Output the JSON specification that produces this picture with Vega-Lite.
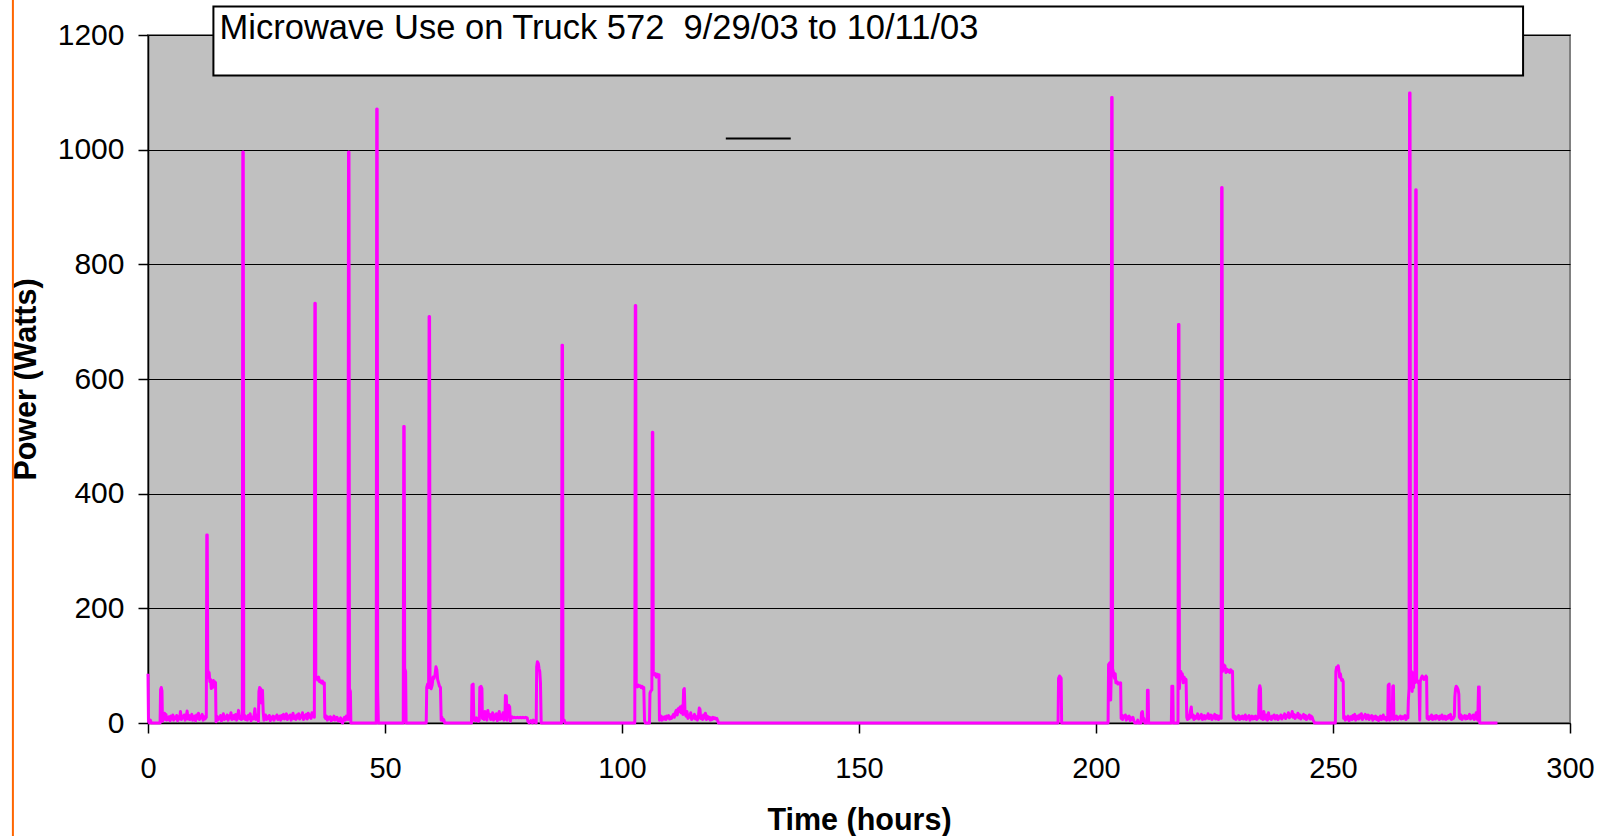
{
  "$schema": "https://vega.github.io/schema/vega-lite/v6.json",
  "width": 1422,
  "height": 688,
  "autosize": {"type": "none"},
  "padding": {"left": 148, "top": 35, "right": 35, "bottom": 113},
  "background": "#ffffff",
  "config": {
    "font": "Liberation Sans",
    "view": {"fill": "#C0C0C0", "stroke": "#808080", "strokeWidth": 2},
    "axis": {"domainColor": "#000000", "tickColor": "#000000", "labelColor": "#000000", "titleColor": "#000000", "labelFont": "Liberation Sans", "titleFont": "Liberation Sans"}
  },
  "datasets": {
    "power": [
      {"t":0,"w":86},{"t":0.1,"w":3},{"t":0.3,"w":0},{"t":0.5,"w":5},{"t":0.7,"w":0},{"t":2.55,"w":0},{"t":2.65,"w":58},{"t":2.8,"w":62},{"t":2.95,"w":56},{"t":3.05,"w":3},{"t":3.2,"w":16},{"t":3.35,"w":12},{"t":3.5,"w":17},{"t":3.65,"w":6},{"t":3.8,"w":15},{"t":3.95,"w":5},{"t":4.1,"w":9},{"t":4.25,"w":6},{"t":4.45,"w":11},{"t":4.65,"w":4},{"t":4.85,"w":12},{"t":5.05,"w":7},{"t":5.25,"w":14},{"t":5.45,"w":5},{"t":5.65,"w":10},{"t":5.85,"w":8},{"t":6.05,"w":13},{"t":6.25,"w":4},{"t":6.45,"w":11},{"t":6.65,"w":7},{"t":6.85,"w":20},{"t":7.05,"w":6},{"t":7.25,"w":12},{"t":7.45,"w":9},{"t":7.65,"w":14},{"t":7.85,"w":5},{"t":8.05,"w":10},{"t":8.25,"w":21},{"t":8.45,"w":7},{"t":8.65,"w":13},{"t":8.85,"w":6},{"t":9.05,"w":11},{"t":9.25,"w":15},{"t":9.45,"w":5},{"t":9.65,"w":9},{"t":9.85,"w":12},{"t":10.05,"w":4},{"t":10.25,"w":14},{"t":10.45,"w":8},{"t":10.65,"w":17},{"t":10.85,"w":6},{"t":11.05,"w":12},{"t":11.25,"w":9},{"t":11.45,"w":15},{"t":11.65,"w":5},{"t":11.85,"w":11},{"t":12.05,"w":7},
      {"t":12.3,"w":10},{"t":12.4,"w":328},{"t":12.5,"w":328},{"t":12.6,"w":95},{"t":12.75,"w":80},{"t":12.9,"w":88},{"t":13.05,"w":72},{"t":13.2,"w":76},{"t":13.35,"w":60},{"t":13.5,"w":70},{"t":13.65,"w":62},{"t":13.8,"w":74},{"t":13.95,"w":70},{"t":14.1,"w":72},{"t":14.25,"w":70},{"t":14.35,"w":2},
      {"t":14.5,"w":12},{"t":14.7,"w":5},{"t":14.9,"w":10},{"t":15.1,"w":7},{"t":15.3,"w":13},{"t":15.5,"w":4},{"t":15.7,"w":9},{"t":15.9,"w":16},{"t":16.1,"w":6},{"t":16.3,"w":11},{"t":16.5,"w":8},{"t":16.7,"w":14},{"t":16.9,"w":5},{"t":17.1,"w":12},{"t":17.3,"w":9},{"t":17.5,"w":18},{"t":17.7,"w":6},{"t":17.9,"w":10},{"t":18.1,"w":13},{"t":18.3,"w":7},{"t":18.5,"w":15},{"t":18.7,"w":5},{"t":18.9,"w":11},{"t":19.1,"w":22},{"t":19.3,"w":8},{"t":19.5,"w":12},{"t":19.7,"w":6},
      {"t":19.9,"w":10},{"t":20.0,"w":996},{"t":20.1,"w":996},{"t":20.2,"w":8},
      {"t":20.35,"w":14},{"t":20.55,"w":6},{"t":20.75,"w":11},{"t":20.95,"w":5},{"t":21.15,"w":13},{"t":21.35,"w":8},{"t":21.55,"w":16},{"t":21.75,"w":4},{"t":21.95,"w":10},{"t":22.15,"w":7},{"t":22.35,"w":12},{"t":22.55,"w":25},{"t":22.75,"w":6},{"t":22.95,"w":9},{"t":23.15,"w":14},{"t":23.3,"w":3},
      {"t":23.4,"w":55},{"t":23.55,"w":62},{"t":23.75,"w":60},{"t":23.9,"w":35},{"t":24.0,"w":55},{"t":24.15,"w":57},{"t":24.3,"w":20},{"t":24.45,"w":5},
      {"t":24.6,"w":10},{"t":24.8,"w":14},{"t":25.0,"w":6},{"t":25.2,"w":11},{"t":25.4,"w":8},{"t":25.6,"w":13},{"t":25.8,"w":4},{"t":26.0,"w":10},{"t":26.2,"w":7},{"t":26.4,"w":12},{"t":26.6,"w":5},{"t":26.8,"w":11},{"t":27.0,"w":9},{"t":27.2,"w":14},{"t":27.4,"w":6},{"t":27.6,"w":10},{"t":27.8,"w":12},{"t":28.0,"w":5},{"t":28.2,"w":13},{"t":28.4,"w":8},{"t":28.6,"w":15},{"t":28.8,"w":7},{"t":29.0,"w":11},{"t":29.2,"w":16},{"t":29.4,"w":6},{"t":29.6,"w":12},{"t":29.8,"w":9},{"t":30.0,"w":14},{"t":30.2,"w":5},{"t":30.4,"w":11},{"t":30.6,"w":17},{"t":30.8,"w":8},{"t":31.0,"w":12},{"t":31.2,"w":6},{"t":31.4,"w":14},{"t":31.6,"w":9},{"t":31.8,"w":16},{"t":32.0,"w":7},{"t":32.2,"w":12},{"t":32.4,"w":10},{"t":32.6,"w":18},{"t":32.8,"w":6},{"t":33.0,"w":13},{"t":33.2,"w":9},{"t":33.4,"w":15},{"t":33.6,"w":7},{"t":33.8,"w":17},{"t":34.0,"w":10},{"t":34.2,"w":14},{"t":34.4,"w":8},{"t":34.6,"w":18},{"t":34.8,"w":12},{"t":35.0,"w":16},
      {"t":35.1,"w":10},{"t":35.2,"w":732},{"t":35.3,"w":732},{"t":35.4,"w":82},{"t":35.6,"w":78},{"t":35.8,"w":75},{"t":36.0,"w":80},{"t":36.2,"w":72},{"t":36.4,"w":74},{"t":36.6,"w":70},{"t":36.8,"w":73},{"t":37.0,"w":68},{"t":37.2,"w":70},{"t":37.3,"w":10},
      {"t":37.45,"w":8},{"t":37.65,"w":12},{"t":37.85,"w":5},{"t":38.05,"w":10},{"t":38.25,"w":7},{"t":38.45,"w":11},{"t":38.65,"w":4},{"t":38.85,"w":9},{"t":39.05,"w":6},{"t":39.25,"w":12},{"t":39.45,"w":5},{"t":39.65,"w":8},{"t":39.85,"w":10},{"t":40.05,"w":4},{"t":40.25,"w":7},{"t":40.45,"w":3},{"t":40.65,"w":9},{"t":40.85,"w":2},{"t":41.05,"w":0},{"t":41.25,"w":6},{"t":41.45,"w":10},{"t":41.65,"w":5},{"t":41.85,"w":12},{"t":42.05,"w":8},
      {"t":42.2,"w":6},{"t":42.3,"w":996},{"t":42.4,"w":996},{"t":42.5,"w":60},{"t":42.7,"w":55},{"t":42.8,"w":0},
      {"t":48.15,"w":0},{"t":48.25,"w":1071},{"t":48.35,"w":1071},{"t":48.45,"w":55},{"t":48.6,"w":0},
      {"t":53.85,"w":0},{"t":53.95,"w":517},{"t":54.05,"w":517},{"t":54.15,"w":95},{"t":54.35,"w":90},{"t":54.45,"w":0},
      {"t":58.7,"w":0},{"t":58.8,"w":62},{"t":59.0,"w":68},{"t":59.2,"w":62},{"t":59.3,"w":709},{"t":59.4,"w":709},{"t":59.5,"w":62},{"t":59.75,"w":60},{"t":59.95,"w":66},{"t":60.15,"w":80},{"t":60.35,"w":78},{"t":60.55,"w":84},{"t":60.75,"w":98},{"t":60.95,"w":92},{"t":61.1,"w":76},{"t":61.3,"w":70},{"t":61.5,"w":64},{"t":61.7,"w":62},{"t":61.85,"w":5},{"t":62.0,"w":10},{"t":62.2,"w":4},{"t":62.4,"w":6},{"t":62.6,"w":0},
      {"t":68.25,"w":0},{"t":68.35,"w":66},{"t":68.6,"w":68},{"t":68.75,"w":5},{"t":68.9,"w":8},{"t":69.1,"w":4},{"t":69.3,"w":9},{"t":69.5,"w":6},{"t":69.7,"w":3},{"t":69.9,"w":5},{"t":70.0,"w":62},{"t":70.25,"w":64},{"t":70.45,"w":60},{"t":70.55,"w":8},{"t":70.7,"w":14},{"t":70.9,"w":6},{"t":71.1,"w":20},{"t":71.3,"w":10},{"t":71.5,"w":5},{"t":71.7,"w":22},{"t":71.9,"w":12},{"t":72.1,"w":15},{"t":72.3,"w":6},{"t":72.5,"w":10},{"t":72.7,"w":18},{"t":72.9,"w":5},{"t":73.1,"w":14},{"t":73.3,"w":8},{"t":73.5,"w":16},{"t":73.7,"w":4},{"t":73.9,"w":12},{"t":74.1,"w":20},{"t":74.3,"w":6},{"t":74.5,"w":14},{"t":74.7,"w":8},{"t":74.9,"w":18},{"t":75.1,"w":5},{"t":75.3,"w":10},{"t":75.4,"w":48},{"t":75.6,"w":47},{"t":75.75,"w":5},{"t":75.9,"w":30},{"t":76.1,"w":31},{"t":76.3,"w":28},{"t":76.45,"w":3},{"t":76.6,"w":10},{"t":76.8,"w":11},{"t":77.0,"w":9},{"t":77.3,"w":10},{"t":77.6,"w":9},{"t":77.9,"w":10},{"t":78.2,"w":9},{"t":78.5,"w":10},{"t":78.8,"w":9},{"t":79.1,"w":10},{"t":79.4,"w":9},{"t":79.7,"w":10},{"t":80.0,"w":9},{"t":80.15,"w":3},{"t":80.4,"w":0},{"t":80.8,"w":4},{"t":81.1,"w":0},{"t":81.3,"w":5},{"t":81.5,"w":2},
      {"t":81.9,"w":0},{"t":82.0,"w":98},{"t":82.15,"w":107},{"t":82.35,"w":104},{"t":82.5,"w":95},{"t":82.65,"w":90},{"t":82.8,"w":70},{"t":82.95,"w":0},
      {"t":87.25,"w":0},{"t":87.35,"w":659},{"t":87.45,"w":659},{"t":87.55,"w":6},{"t":87.8,"w":5},{"t":88.0,"w":0},
      {"t":102.7,"w":0},{"t":102.8,"w":728},{"t":102.9,"w":728},{"t":103.0,"w":68},{"t":103.25,"w":63},{"t":103.45,"w":66},{"t":103.65,"w":64},{"t":103.85,"w":65},{"t":104.05,"w":62},{"t":104.25,"w":64},{"t":104.45,"w":60},{"t":104.6,"w":62},{"t":104.75,"w":5},{"t":104.9,"w":0},
      {"t":105.8,"w":0},{"t":105.9,"w":52},{"t":106.1,"w":56},{"t":106.3,"w":58},{"t":106.4,"w":507},{"t":106.5,"w":507},{"t":106.6,"w":88},{"t":106.85,"w":84},{"t":107.05,"w":86},{"t":107.25,"w":80},{"t":107.45,"w":85},{"t":107.65,"w":82},{"t":107.8,"w":84},{"t":107.9,"w":5},
      {"t":108.05,"w":8},{"t":108.25,"w":12},{"t":108.45,"w":5},{"t":108.65,"w":10},{"t":108.85,"w":7},{"t":109.05,"w":11},{"t":109.25,"w":6},{"t":109.45,"w":12},{"t":109.65,"w":9},{"t":109.85,"w":13},{"t":110.05,"w":7},{"t":110.25,"w":10},{"t":110.45,"w":8},{"t":110.65,"w":12},{"t":110.85,"w":15},{"t":111.05,"w":10},{"t":111.25,"w":18},{"t":111.45,"w":22},{"t":111.65,"w":14},{"t":111.85,"w":25},{"t":112.05,"w":20},{"t":112.25,"w":28},{"t":112.45,"w":18},{"t":112.65,"w":30},{"t":112.85,"w":15},{"t":113.0,"w":58},{"t":113.15,"w":60},{"t":113.3,"w":18},{"t":113.5,"w":12},{"t":113.7,"w":20},{"t":113.9,"w":8},{"t":114.1,"w":14},{"t":114.3,"w":10},{"t":114.5,"w":18},{"t":114.7,"w":6},{"t":114.9,"w":12},{"t":115.1,"w":9},{"t":115.3,"w":15},{"t":115.5,"w":7},{"t":115.7,"w":11},{"t":115.9,"w":5},{"t":116.1,"w":10},{"t":116.3,"w":26},{"t":116.45,"w":24},{"t":116.6,"w":8},{"t":116.8,"w":12},{"t":117.0,"w":6},{"t":117.2,"w":14},{"t":117.4,"w":9},{"t":117.6,"w":17},{"t":117.8,"w":6},{"t":118.0,"w":12},{"t":118.2,"w":8},{"t":118.4,"w":10},{"t":118.6,"w":5},{"t":118.8,"w":9},{"t":119.0,"w":6},{"t":119.2,"w":10},{"t":119.4,"w":8},{"t":119.6,"w":9},{"t":119.8,"w":7},{"t":120.0,"w":8},{"t":120.2,"w":4},{"t":120.35,"w":0},
      {"t":192.0,"w":0},{"t":192.1,"w":78},{"t":192.3,"w":82},{"t":192.5,"w":80},{"t":192.65,"w":78},{"t":192.75,"w":0},
      {"t":202.55,"w":0},{"t":202.65,"w":102},{"t":202.9,"w":105},{"t":203.0,"w":60},{"t":203.1,"w":40},{"t":203.2,"w":80},{"t":203.3,"w":1091},{"t":203.4,"w":1091},{"t":203.5,"w":95},{"t":203.7,"w":88},{"t":203.9,"w":78},{"t":204.05,"w":86},{"t":204.2,"w":70},{"t":204.4,"w":72},{"t":204.6,"w":68},{"t":204.8,"w":70},{"t":205.0,"w":68},{"t":205.2,"w":70},{"t":205.3,"w":8},{"t":205.45,"w":14},{"t":205.6,"w":6},{"t":205.8,"w":12},{"t":206.0,"w":10},{"t":206.2,"w":14},{"t":206.4,"w":5},{"t":206.6,"w":11},{"t":206.8,"w":8},{"t":207.0,"w":12},{"t":207.2,"w":4},{"t":207.4,"w":9},{"t":207.6,"w":6},{"t":207.8,"w":10},{"t":208.0,"w":3},{"t":208.2,"w":0},{"t":208.6,"w":0},{"t":208.8,"w":5},{"t":209.0,"w":0},{"t":209.5,"w":0},{"t":209.6,"w":18},{"t":209.8,"w":20},{"t":209.95,"w":5},{"t":210.1,"w":8},{"t":210.3,"w":0},{"t":210.8,"w":0},{"t":210.85,"w":57},{"t":211.0,"w":57},{"t":211.1,"w":0},
      {"t":215.9,"w":0},{"t":216.0,"w":64},{"t":216.2,"w":64},{"t":216.3,"w":0},{"t":217.3,"w":0},{"t":217.4,"w":695},{"t":217.5,"w":695},{"t":217.6,"w":60},{"t":217.75,"w":88},{"t":217.9,"w":90},{"t":218.05,"w":78},{"t":218.2,"w":86},{"t":218.4,"w":70},{"t":218.6,"w":80},{"t":218.8,"w":75},{"t":219.0,"w":76},{"t":219.15,"w":10},{"t":219.3,"w":6},{"t":219.5,"w":12},{"t":219.7,"w":8},{"t":219.9,"w":20},{"t":220.1,"w":28},{"t":220.25,"w":10},{"t":220.45,"w":14},{"t":220.65,"w":6},{"t":220.85,"w":12},{"t":221.05,"w":8},{"t":221.25,"w":10},{"t":221.45,"w":16},{"t":221.65,"w":7},{"t":221.85,"w":12},{"t":222.05,"w":9},{"t":222.25,"w":15},{"t":222.45,"w":6},{"t":222.65,"w":10},{"t":222.85,"w":13},{"t":223.05,"w":7},{"t":223.25,"w":12},{"t":223.45,"w":9},{"t":223.65,"w":16},{"t":223.85,"w":8},{"t":224.05,"w":11},{"t":224.25,"w":14},{"t":224.45,"w":6},{"t":224.65,"w":12},{"t":224.85,"w":9},{"t":225.05,"w":15},{"t":225.25,"w":7},{"t":225.45,"w":13},{"t":225.65,"w":10},{"t":225.85,"w":6},{"t":226.0,"w":12},
      {"t":226.4,"w":8},{"t":226.5,"w":934},{"t":226.6,"w":934},{"t":226.7,"w":90},{"t":226.9,"w":102},{"t":227.05,"w":95},{"t":227.2,"w":100},{"t":227.4,"w":88},{"t":227.6,"w":94},{"t":227.8,"w":90},{"t":228.0,"w":92},{"t":228.2,"w":88},{"t":228.4,"w":93},{"t":228.6,"w":91},{"t":228.8,"w":90},{"t":228.95,"w":10},{"t":229.1,"w":8},{"t":229.3,"w":12},{"t":229.5,"w":6},{"t":229.7,"w":10},{"t":229.9,"w":9},{"t":230.1,"w":13},{"t":230.3,"w":6},{"t":230.5,"w":11},{"t":230.7,"w":8},{"t":230.9,"w":12},{"t":231.1,"w":7},{"t":231.3,"w":10},{"t":231.5,"w":14},{"t":231.7,"w":6},{"t":231.9,"w":11},{"t":232.1,"w":9},{"t":232.3,"w":13},{"t":232.5,"w":5},{"t":232.7,"w":10},{"t":232.9,"w":12},{"t":233.1,"w":7},{"t":233.3,"w":11},{"t":233.5,"w":8},{"t":233.7,"w":12},{"t":233.9,"w":6},
      {"t":234.3,"w":10},{"t":234.4,"w":58},{"t":234.55,"w":65},{"t":234.7,"w":60},{"t":234.8,"w":8},{"t":235.0,"w":12},{"t":235.2,"w":6},{"t":235.4,"w":20},{"t":235.6,"w":10},{"t":235.8,"w":7},{"t":236.0,"w":14},{"t":236.2,"w":5},{"t":236.4,"w":18},{"t":236.6,"w":8},{"t":236.8,"w":11},{"t":237.0,"w":6},{"t":237.2,"w":12},{"t":237.4,"w":9},{"t":237.6,"w":14},{"t":237.8,"w":7},{"t":238.0,"w":10},{"t":238.2,"w":13},{"t":238.4,"w":6},{"t":238.6,"w":11},{"t":238.8,"w":9},{"t":239.0,"w":14},{"t":239.2,"w":7},{"t":239.4,"w":12},{"t":239.6,"w":10},{"t":239.8,"w":16},{"t":240.0,"w":8},{"t":240.2,"w":13},{"t":240.4,"w":11},{"t":240.6,"w":18},{"t":240.8,"w":9},{"t":241.0,"w":14},{"t":241.2,"w":12},{"t":241.4,"w":20},{"t":241.6,"w":10},{"t":241.8,"w":15},{"t":242.0,"w":8},{"t":242.2,"w":13},{"t":242.4,"w":11},{"t":242.6,"w":17},{"t":242.8,"w":9},{"t":243.0,"w":14},{"t":243.2,"w":7},{"t":243.4,"w":12},{"t":243.6,"w":10},{"t":243.8,"w":15},{"t":244.0,"w":8},{"t":244.2,"w":13},{"t":244.4,"w":6},{"t":244.6,"w":11},{"t":244.8,"w":9},{"t":245.0,"w":14},{"t":245.2,"w":7},{"t":245.4,"w":12},{"t":245.6,"w":10},{"t":245.8,"w":5},{"t":246.0,"w":2},{"t":246.1,"w":0},
      {"t":250.5,"w":0},{"t":250.6,"w":90},{"t":250.75,"w":97},{"t":250.95,"w":95},{"t":251.1,"w":100},{"t":251.25,"w":92},{"t":251.4,"w":80},{"t":251.55,"w":86},{"t":251.7,"w":78},{"t":251.85,"w":74},{"t":252.0,"w":76},{"t":252.15,"w":72},{"t":252.25,"w":8},{"t":252.4,"w":12},{"t":252.6,"w":5},{"t":252.8,"w":10},{"t":253.0,"w":7},{"t":253.2,"w":12},{"t":253.4,"w":4},{"t":253.6,"w":9},{"t":253.8,"w":11},{"t":254.0,"w":6},{"t":254.2,"w":13},{"t":254.4,"w":8},{"t":254.6,"w":15},{"t":254.8,"w":5},{"t":255.0,"w":10},{"t":255.2,"w":12},{"t":255.4,"w":7},{"t":255.6,"w":14},{"t":255.8,"w":9},{"t":256.0,"w":16},{"t":256.2,"w":6},{"t":256.4,"w":12},{"t":256.6,"w":10},{"t":256.8,"w":15},{"t":257.0,"w":7},{"t":257.2,"w":11},{"t":257.4,"w":14},{"t":257.6,"w":6},{"t":257.8,"w":12},{"t":258.0,"w":9},{"t":258.2,"w":13},{"t":258.4,"w":5},{"t":258.6,"w":11},{"t":258.8,"w":8},{"t":259.0,"w":12},{"t":259.2,"w":6},{"t":259.4,"w":10},{"t":259.6,"w":4},{"t":259.8,"w":8},{"t":260.0,"w":12},{"t":260.2,"w":6},{"t":260.4,"w":10},{"t":260.6,"w":14},{"t":260.8,"w":7},{"t":261.0,"w":10},{"t":261.3,"w":5},{"t":261.55,"w":8},
      {"t":261.65,"w":66},{"t":261.85,"w":68},{"t":261.95,"w":5},{"t":262.1,"w":10},{"t":262.3,"w":7},{"t":262.5,"w":12},{"t":262.6,"w":64},{"t":262.75,"w":65},{"t":262.85,"w":6},{"t":263.0,"w":10},{"t":263.2,"w":8},{"t":263.4,"w":12},{"t":263.6,"w":6},{"t":263.8,"w":10},{"t":264.0,"w":9},{"t":264.2,"w":12},{"t":264.4,"w":7},{"t":264.6,"w":11},{"t":264.8,"w":8},{"t":265.0,"w":10},{"t":265.2,"w":13},{"t":265.4,"w":6},{"t":265.6,"w":11},{"t":265.8,"w":9},{"t":265.9,"w":40},{"t":266.05,"w":60},{"t":266.15,"w":1099},{"t":266.25,"w":1099},{"t":266.35,"w":75},{"t":266.55,"w":90},{"t":266.7,"w":55},{"t":266.85,"w":80},{"t":267.0,"w":62},{"t":267.15,"w":88},{"t":267.3,"w":70},{"t":267.45,"w":930},{"t":267.55,"w":930},{"t":267.65,"w":72},{"t":267.85,"w":74},{"t":268.0,"w":70},{"t":268.15,"w":68},{"t":268.3,"w":5},{"t":268.4,"w":72},{"t":268.6,"w":78},{"t":268.8,"w":82},{"t":269.0,"w":80},{"t":269.2,"w":76},{"t":269.4,"w":78},{"t":269.6,"w":82},{"t":269.75,"w":80},{"t":269.85,"w":8},{"t":270.0,"w":12},{"t":270.2,"w":6},{"t":270.4,"w":11},{"t":270.6,"w":8},{"t":270.8,"w":14},{"t":271.0,"w":6},{"t":271.2,"w":10},{"t":271.4,"w":12},{"t":271.6,"w":7},{"t":271.8,"w":13},{"t":272.0,"w":9},{"t":272.2,"w":11},{"t":272.4,"w":6},{"t":272.6,"w":12},{"t":272.8,"w":8},{"t":273.0,"w":14},{"t":273.2,"w":7},{"t":273.4,"w":10},{"t":273.6,"w":12},{"t":273.8,"w":6},{"t":274.0,"w":11},{"t":274.2,"w":8},{"t":274.4,"w":13},{"t":274.6,"w":9},{"t":274.8,"w":15},{"t":275.0,"w":6},{"t":275.2,"w":10},{"t":275.4,"w":8},{"t":275.6,"w":12},{"t":275.7,"w":45},{"t":275.85,"w":60},{"t":276.0,"w":64},{"t":276.2,"w":62},{"t":276.4,"w":58},{"t":276.55,"w":50},{"t":276.65,"w":10},{"t":276.8,"w":8},{"t":277.0,"w":14},{"t":277.2,"w":6},{"t":277.4,"w":11},{"t":277.6,"w":9},{"t":277.8,"w":13},{"t":278.0,"w":7},{"t":278.2,"w":12},{"t":278.4,"w":8},{"t":278.6,"w":10},{"t":278.8,"w":15},{"t":279.0,"w":7},{"t":279.2,"w":12},{"t":279.4,"w":9},{"t":279.6,"w":14},{"t":279.8,"w":6},{"t":280.0,"w":10},{"t":280.2,"w":18},{"t":280.4,"w":8},{"t":280.55,"w":5},{"t":280.7,"w":63},{"t":280.85,"w":63},{"t":280.95,"w":0},{"t":284.7,"w":0}
    ],
    "notes": [
      {"kind": "title", "label": "Microwave Use on Truck 572\u00a0 9/29/03 to 10/11/03"}
    ]
  },
  "layer": [
    {
      "data": {"name": "notes"},
      "mark": {"type": "rule", "color": "#FF6600", "strokeWidth": 2, "clip": false},
      "encoding": {
        "x": {"datum": -28.5, "type": "quantitative", "scale": {"domain": [0, 300], "nice": false}},
        "y": {"datum": -300, "type": "quantitative", "scale": {"domain": [0, 1200], "nice": false}},
        "y2": {"datum": 1300}
      }
    },
    {
      "data": {"name": "power"},
      "mark": {"type": "line", "color": "#FF00FF", "strokeWidth": 3, "strokeJoin": "round"},
      "encoding": {
        "x": {"field": "t", "type": "quantitative", "scale": {"domain": [0, 300], "nice": false},
          "axis": {"values": [0, 50, 100, 150, 200, 250, 300], "format": "d", "grid": false, "tickSize": 10, "tickWidth": 1.5, "domainWidth": 1.5, "labelFontSize": 29, "labelPadding": 21, "labelFlush": false, "labelOverlap": false,
            "title": "Time (hours)", "titleFontSize": 30.5, "titleFontWeight": "bold", "titleX": 711, "titleY": 106, "titleAlign": "center", "titleBaseline": "alphabetic"}},
        "y": {"field": "w", "type": "quantitative", "scale": {"domain": [0, 1200], "nice": false},
          "axis": {"values": [0, 200, 400, 600, 800, 1000, 1200], "format": "d", "grid": true, "gridColor": "#000000", "gridWidth": 1, "gridOpacity": 1, "tickSize": 10, "tickWidth": 1.5, "domainWidth": 1.5, "labelFontSize": 30, "labelPadding": 14, "labelFlush": false, "labelOverlap": false,
            "title": "Power (Watts)", "titleFontSize": 30.5, "titleFontWeight": "bold", "titleAngle": -90, "titleX": -113, "titleY": 344, "titleAlign": "center", "titleBaseline": "alphabetic"}}
      }
    },
    {
      "data": {"name": "notes"},
      "mark": {"type": "rule", "color": "#000000", "strokeWidth": 2},
      "encoding": {
        "x": {"datum": 121.9, "type": "quantitative"},
        "x2": {"datum": 135.6},
        "y": {"datum": 1019.4, "type": "quantitative"}
      }
    },
    {
      "data": {"name": "notes"},
      "mark": {"type": "rect", "fill": "#FFFFFF", "stroke": "#000000", "strokeWidth": 2, "clip": false},
      "encoding": {
        "x": {"datum": 13.8, "type": "quantitative"},
        "x2": {"datum": 290.1},
        "y": {"datum": 1129.4, "type": "quantitative"},
        "y2": {"datum": 1249.7}
      }
    },
    {
      "data": {"name": "notes"},
      "mark": {"type": "text", "align": "left", "baseline": "alphabetic", "fontSize": 34.5, "font": "Liberation Sans", "color": "#000000", "clip": false},
      "encoding": {
        "x": {"datum": 15.1, "type": "quantitative"},
        "y": {"datum": 1193.4, "type": "quantitative"},
        "text": {"field": "label"}
      }
    }
  ]
}
